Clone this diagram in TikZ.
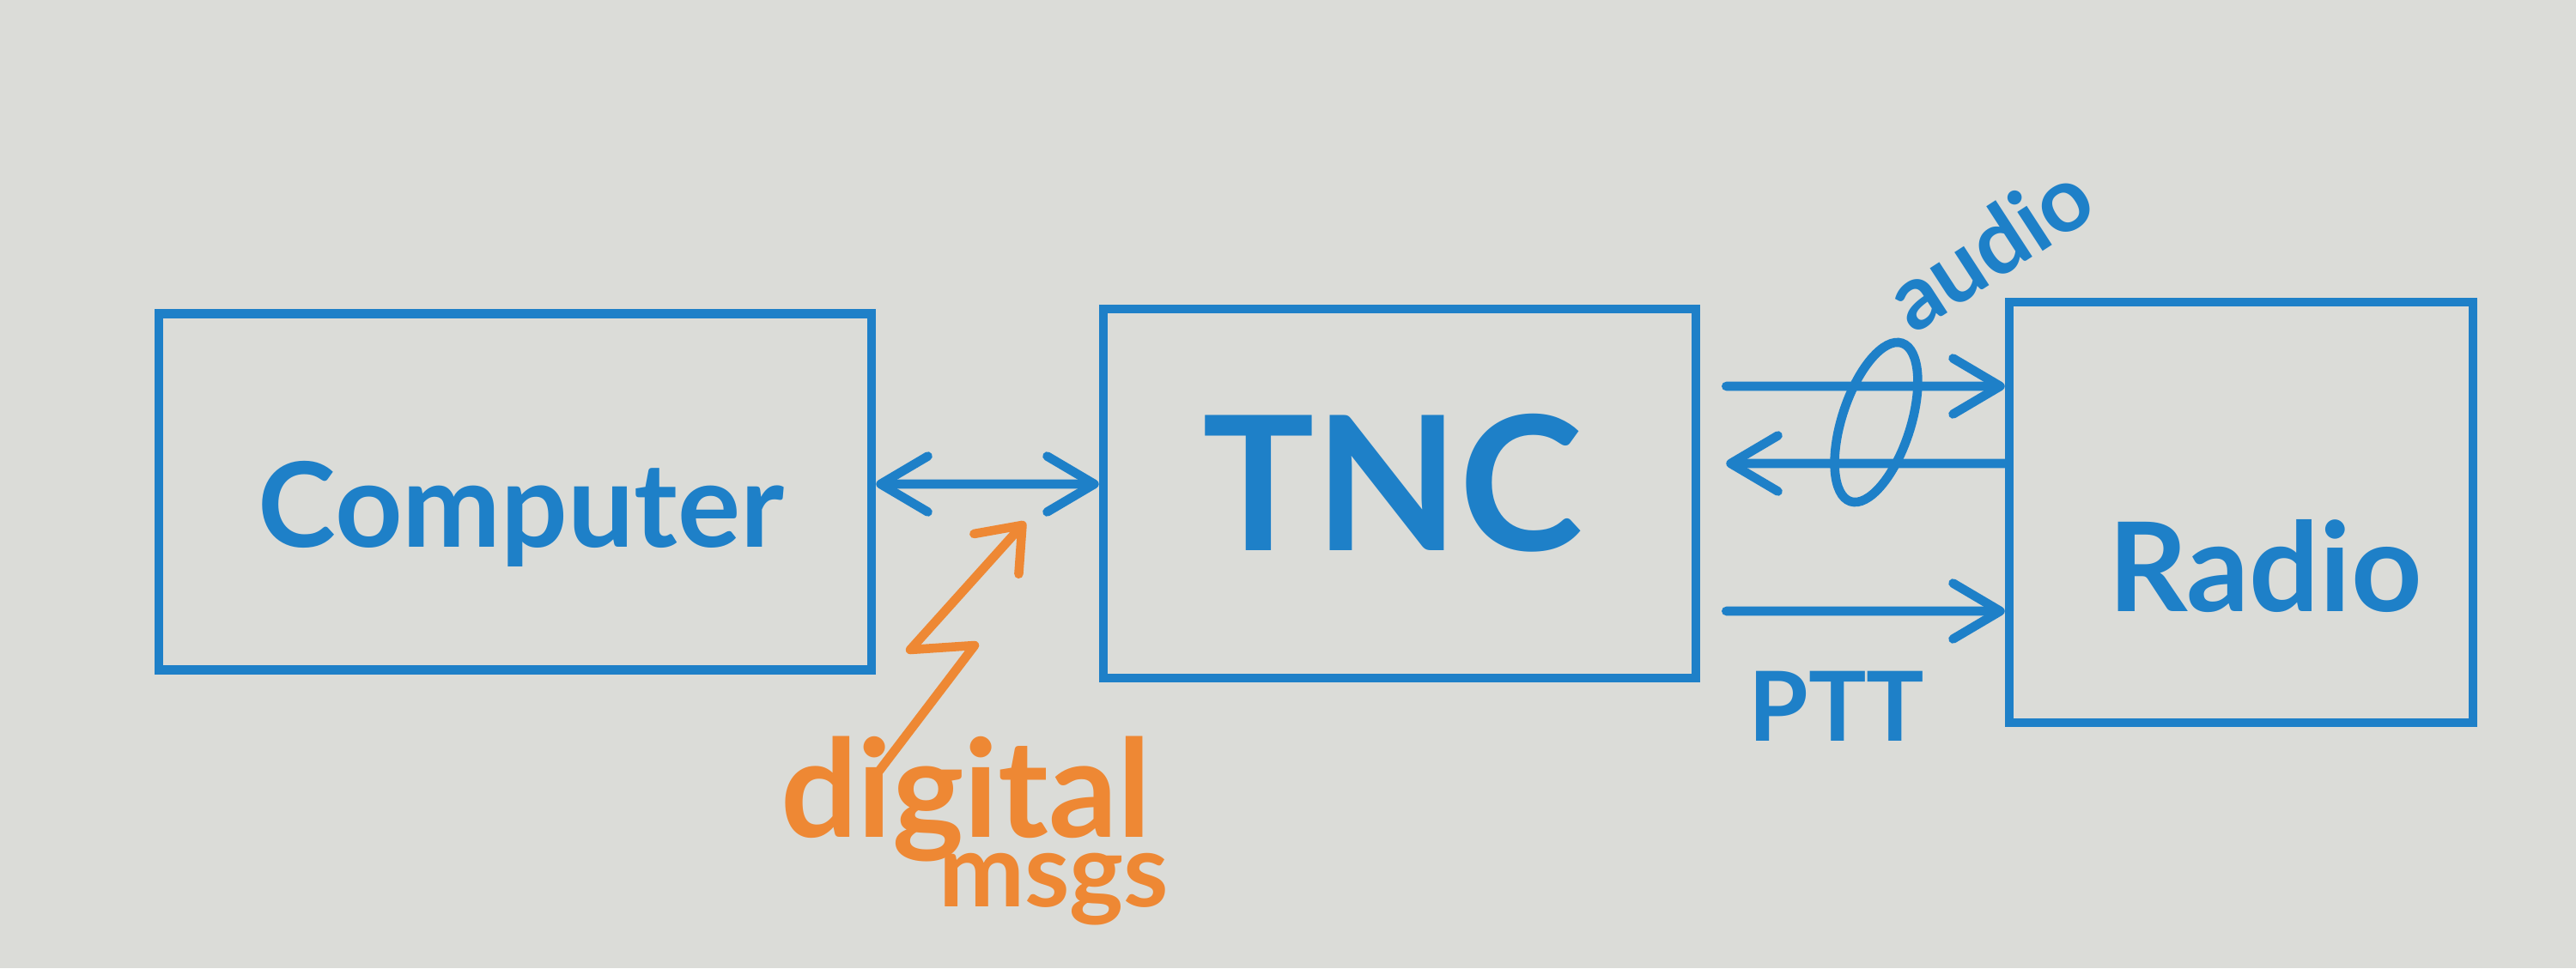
\documentclass[tikz,border=0pt]{standalone}
\usepackage{xcolor}
\usepackage{fontspec}
\setmainfont{Lato}
\usepackage{tikz}
\usetikzlibrary{arrows.meta, shapes}

\definecolor{board}{RGB}{219,220,216}
\definecolor{bluemarker}{RGB}{30,128,200}
\definecolor{orangemarker}{RGB}{238,136,52}

\tikzset{
	box/.style={draw=bluemarker, line width=3pt, inner sep=0pt},
	word/.style={text=bluemarker, font=\bfseries\fontsize{#1}{#1}\selectfont, inner sep=0pt},
	wire/.style={draw=bluemarker, line width=3pt, line cap=round, >={Straight Barb[round, length=5.5mm, width=6.5mm]}},
	note/.style={text=orangemarker, font=\bfseries\fontsize{#1}{#1}\selectfont, inner sep=0pt, anchor=base}
}

\begin{document}
\begin{tikzpicture}
	\fill[board] (0,0) rectangle (30,11.28);
	\useasboundingbox (0,0) rectangle (30,11.28);
	\node[box, minimum width=8.3cm, minimum height=4.15cm] (computer) at (6.0,5.55) {};
	\node[box, minimum width=6.9cm, minimum height=4.3cm] (tnc) at (16.3,5.53) {};
	\node[box, minimum width=5.4cm, minimum height=4.9cm] (radio) at (26.1,5.31) {};
	\node[word=39, anchor=base] (computertext) at (6.07,4.91) {Computer};
	\node[word=62, anchor=base] (tnctext) at (16.22,4.87) {TNC};
	\node[word=41, anchor=base] (radiotext) at (26.38,4.16) {Radio};
	\path[wire,<->] ([yshift=0.9mm]computer.east) -- ([yshift=1.1mm]tnc.west);
	\path[wire,->,shorten <=3mm] ([yshift=12.5mm]tnc.east) -- ([yshift=14.7mm]radio.west);
	\path[wire,->,shorten >=3mm] ([yshift=5.7mm]radio.west) -- ([yshift=3.5mm]tnc.east);
	\path[wire,->,shorten <=3mm] ([yshift=-13.7mm]tnc.east) -- ([yshift=-11.5mm]radio.west);
	\node[draw=bluemarker, line width=3pt, ellipse, minimum width=0.8cm, minimum height=1.94cm, inner sep=0pt, rotate=-18] (ring) at (21.85,6.36) {};
	\node[word=30, rotate=33] (audio) at (23.16,8.41) {audio};
	\node[word=32] (ptt) at (21.39,3.05) {PTT};
	\coordinate (tail) at (10.24,2.30);
	\coordinate (spark) at (11.94,5.20);
	\path[draw=orangemarker, line width=3pt, line cap=round, line join=round, ->, >={Straight Barb[round, length=4.5mm, width=7mm]}] (tail) -- (11.35,3.76) -- (10.60,3.71) -- (spark);
	\node[note=45] (digital) at (11.25,1.53) {digital};
	\node[note=34] (msgs) at (12.27,0.72) {msgs};
\end{tikzpicture}
\end{document}
